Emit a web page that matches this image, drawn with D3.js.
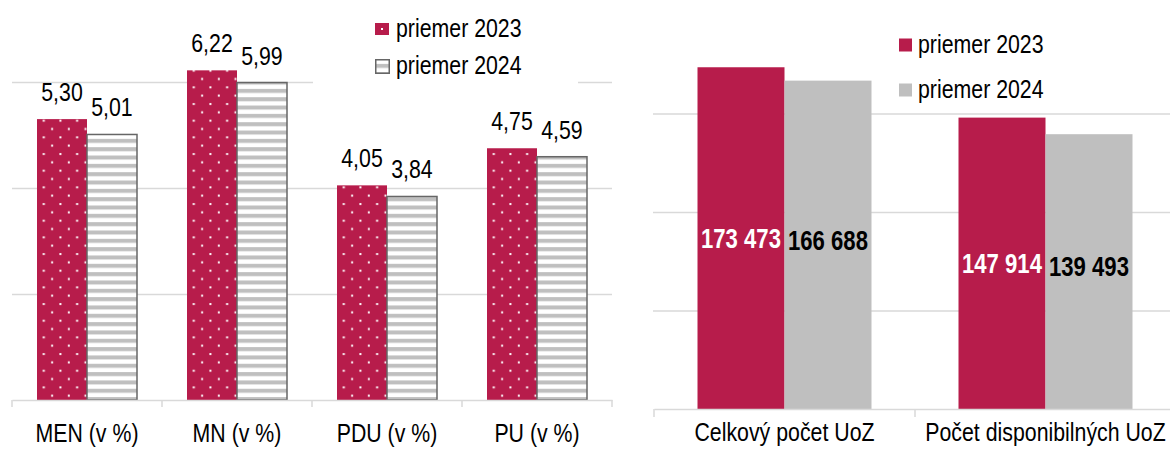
<!DOCTYPE html>
<html>
<head>
<meta charset="utf-8">
<script src="https://cdn.jsdelivr.net/npm/d3@7"></script>
<style>
  body { margin: 0; background: #fff; }
  svg text { font-family: 'Liberation Sans Narrow', 'Arial Narrow', 'Liberation Sans', Arial, sans-serif; }
</style>
</head>
<body>
<svg width="1170" height="453"></svg>
<script>
const years = ['priemer 2023', 'priemer 2024'];

const rateCats = ['MEN (v %)', 'MN (v %)', 'PDU (v %)', 'PU (v %)'];
const rate2023 = [5.30, 6.22, 4.05, 4.75];
const rate2024 = [5.01, 5.99, 3.84, 4.59];
const rateGrid = [2, 4, 6];

const countCats = ['Celkový počet UoZ', 'Počet disponibilných UoZ'];
const count2023 = [173473, 147914];
const count2024 = [166688, 139493];
const countGrid = [50000, 100000, 150000];

const RED = '#b71c4b';
const GREY = '#bfbfbf';
const GRID = '#d9d9d9';
const SQUEEZE = 0.82; // no narrow font installed, so compress text horizontally

const sk = d3.formatLocale({decimal: ',', thousands: '\u00a0', grouping: [3], currency: ['', '']});
const fmtRate = sk.format('.2f');
const fmtCount = sk.format(',d');

// emulate Arial Narrow: scale glyphs in x, keep anchor position
function narrow(sel) {
  sel.each(function() {
    const t = d3.select(this);
    const x = +t.attr('x') || 0;
    t.attr('x', x / SQUEEZE).attr('transform', `scale(${SQUEEZE},1)`);
  });
}

const svg = d3.select('svg');
const defs = svg.append('defs');

// dotted fill for 2023
const dots = defs.append('pattern')
  .attr('id', 'dots')
  .attr('patternUnits', 'userSpaceOnUse')
  .attr('width', 16.67).attr('height', 16.67);
dots.append('rect').attr('width', 16.67).attr('height', 16.67).attr('fill', RED);
dots.append('rect').attr('x', 5.8).attr('y', 11.3).attr('width', 2).attr('height', 2).attr('fill', '#fff');
dots.append('rect').attr('x', 14.1).attr('y', 3).attr('width', 2).attr('height', 2).attr('fill', '#fff');

// horizontal stripes for 2024
const stripes = defs.append('pattern')
  .attr('id', 'stripes')
  .attr('patternUnits', 'userSpaceOnUse')
  .attr('width', 8.33).attr('height', 8.33);
stripes.append('rect').attr('width', 8.33).attr('height', 8.33).attr('fill', '#fff');
stripes.append('rect').attr('y', 5.6).attr('width', 8.33).attr('height', 4).attr('fill', GREY);
stripes.append('rect').attr('y', -2.73).attr('width', 8.33).attr('height', 4).attr('fill', GREY);

// ---------- left chart ----------
const x1 = d3.scaleBand().domain(rateCats).range([12, 612]);
const xs1 = d3.scaleBand().domain(years).range([0, x1.bandwidth()]).paddingOuter(0.5);
const y1 = d3.scaleLinear().domain([0, 6]).range([400, 82]);

const left = svg.append('g');

left.append('g')
  .attr('transform', 'translate(12,0)')
  .call(d3.axisLeft(y1).tickValues(rateGrid).tickSize(-600).tickFormat(''))
  .call(g => g.select('.domain').remove())
  .call(g => g.selectAll('line').attr('stroke', GRID).attr('stroke-width', 1.5));

// legend background hides the top gridline
left.append('rect').attr('x', 313).attr('y', 5).attr('width', 265).attr('height', 88).attr('fill', '#fff');

const rateRows = rateCats.map((c, i) => ({cat: c, vals: [rate2023[i], rate2024[i]]}));

const g1 = left.selectAll('.grp').data(rateRows).join('g')
  .attr('class', 'grp')
  .attr('transform', d => `translate(${x1(d.cat)},0)`);

g1.selectAll('rect').data(d => d.vals.map((v, k) => ({v, k}))).join('rect')
  .attr('x', d => xs1(years[d.k]))
  .attr('y', d => y1(d.v))
  .attr('width', xs1.bandwidth())
  .attr('height', d => y1(0) - y1(d.v))
  .attr('fill', d => d.k === 0 ? 'url(#dots)' : 'url(#stripes)')
  .attr('stroke', d => d.k === 0 ? 'none' : '#666')
  .attr('stroke-width', 1.5);

g1.selectAll('text').data(d => d.vals.map((v, k) => ({v, k}))).join('text')
  .attr('x', d => xs1(years[d.k]) + xs1.bandwidth() / 2)
  .attr('y', d => y1(d.v) - 18)
  .attr('text-anchor', 'middle')
  .attr('font-size', 26)
  .attr('fill', '#000')
  .text(d => fmtRate(d.v))
  .call(narrow);

const ax1 = left.append('g')
  .attr('transform', 'translate(0,400)')
  .call(d3.axisBottom(x1).tickSize(0).tickSizeOuter(0).tickPadding(24));
ax1.select('.domain').attr('stroke', GRID).attr('stroke-width', 1.5);
ax1.selectAll('text').attr('font-size', 26).attr('fill', '#000')
  .attr('font-family', null).attr('dy', '0.71em')
  .call(narrow);
ax1.selectAll('.sep').data(rateCats.concat(['end'])).join('line')
  .attr('class', 'sep')
  .attr('x1', (d, i) => 12 + i * x1.step()).attr('x2', (d, i) => 12 + i * x1.step())
  .attr('y1', 0).attr('y2', 7)
  .attr('stroke', GRID).attr('stroke-width', 1.5);

// legend
const lg1 = left.append('g');
lg1.append('rect').attr('x', 375).attr('y', 23).attr('width', 14).attr('height', 12).attr('fill', RED);
lg1.append('rect').attr('x', 381).attr('y', 28).attr('width', 2).attr('height', 2).attr('fill', '#fff');
lg1.append('rect').attr('x', 375.75).attr('y', 59.75).attr('width', 13.5).attr('height', 13.5)
  .attr('fill', 'url(#stripes)').attr('stroke', '#666').attr('stroke-width', 1.5);
lg1.selectAll('text').data(years).join('text')
  .attr('x', 396).attr('y', (d, i) => 37 + i * 37)
  .attr('font-size', 26).attr('fill', '#000')
  .text(d => d)
  .call(narrow);

// ---------- right chart ----------
const x2 = d3.scaleBand().domain(countCats).range([654, 1176]);
const xs2 = d3.scaleBand().domain(years).range([0, x2.bandwidth()]).paddingOuter(0.5);
const y2 = d3.scaleLinear().domain([0, 150000]).range([409, 113.5]);

const right = svg.append('g');

right.append('g')
  .attr('transform', 'translate(653,0)')
  .call(d3.axisLeft(y2).tickValues(countGrid).tickSize(-520).tickFormat(''))
  .call(g => g.select('.domain').remove())
  .call(g => g.selectAll('line').attr('stroke', GRID).attr('stroke-width', 1.5));

const countRows = countCats.map((c, i) => ({cat: c, vals: [count2023[i], count2024[i]]}));

const g2 = right.selectAll('.grp').data(countRows).join('g')
  .attr('class', 'grp')
  .attr('transform', d => `translate(${x2(d.cat)},0)`);

g2.selectAll('rect').data(d => d.vals.map((v, k) => ({v, k}))).join('rect')
  .attr('x', d => xs2(years[d.k]))
  .attr('y', d => y2(d.v))
  .attr('width', xs2.bandwidth())
  .attr('height', d => y2(0) - y2(d.v))
  .attr('fill', d => d.k === 0 ? RED : GREY);

g2.selectAll('text').data(d => d.vals.map((v, k) => ({v, k}))).join('text')
  .attr('x', d => xs2(years[d.k]) + xs2.bandwidth() / 2)
  .attr('y', d => (y2(d.v) + y2(0)) / 2 - (d.k === 0 ? 0 : 5))
  .attr('dy', '0.36em')
  .attr('text-anchor', 'middle')
  .attr('font-size', 27)
  .attr('font-weight', 'bold')
  .attr('fill', d => d.k === 0 ? '#fff' : '#000')
  .text(d => fmtCount(d.v))
  .call(narrow);

const ax2 = right.append('g')
  .attr('transform', 'translate(0,409)')
  .call(d3.axisBottom(x2).tickSize(0).tickSizeOuter(0).tickPadding(14));
ax2.select('.domain').attr('stroke', GRID).attr('stroke-width', 1.5);
ax2.selectAll('text').attr('font-size', 26).attr('fill', '#000')
  .attr('font-family', null).attr('dy', '0.71em')
  .call(narrow);
ax2.selectAll('.sep').data(countCats).join('line')
  .attr('class', 'sep')
  .attr('x1', (d, i) => 654 + i * x2.step()).attr('x2', (d, i) => 654 + i * x2.step())
  .attr('y1', 0).attr('y2', 8)
  .attr('stroke', GRID).attr('stroke-width', 1.5);

// legend
const lg2 = right.append('g');
lg2.selectAll('rect').data(years).join('rect')
  .attr('x', 899).attr('y', (d, i) => 38.5 + i * 45)
  .attr('width', 13).attr('height', 13)
  .attr('fill', (d, i) => i === 0 ? RED : GREY);
lg2.selectAll('text').data(years).join('text')
  .attr('x', 918).attr('y', (d, i) => 53 + i * 45)
  .attr('font-size', 26).attr('fill', '#000')
  .text(d => d)
  .call(narrow);
</script>
</body>
</html>
